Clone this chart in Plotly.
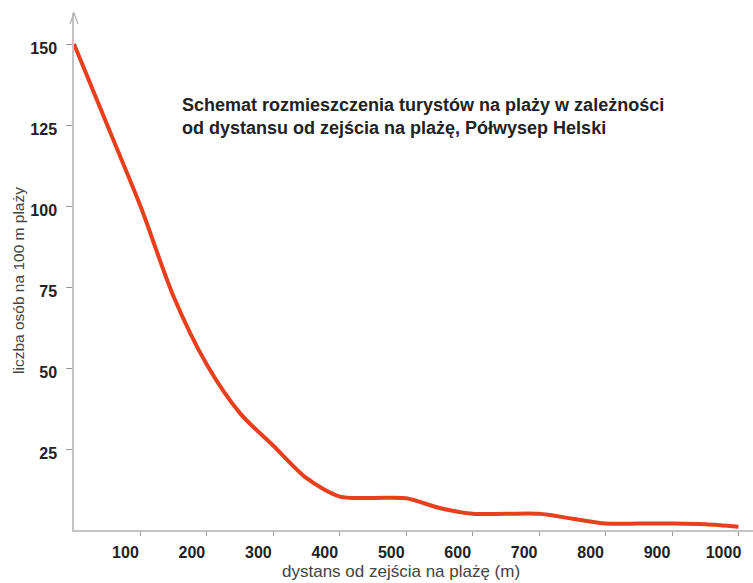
import plotly.graph_objects as go

# Data
distance_m = [0, 50, 100, 150, 200, 250, 300, 350, 400, 450, 500, 550, 600, 650, 700, 750, 800, 850, 900, 950, 1000]
persons_per_100m = [150, 125, 100, 72, 51, 36, 26, 16, 10.3, 9.9, 9.8, 6.8, 5, 5, 5, 3.5, 2, 2, 2, 1.8, 1]

x_tick_vals = [100, 200, 300, 400, 500, 600, 700, 800, 900, 1000]
x_tick_text = ["100", "200", "300", "400", "500", "600", "700", "800", "900", "1000"]
y_tick_vals = [25, 50, 75, 100, 125, 150]
y_tick_text = ["25", "50", "75", "100", "125", "150"]

title_line1 = "Schemat rozmieszczenia turystów na plaży w zależności"
title_line2 = "od dystansu od zejścia na plażę, Półwysep Helski"
x_title = "dystans od zejścia na plażę (m)"
y_title = "liczba osób na 100 m plaży"

W, H = 753, 583
ML, MR, MT, MB = 74, 0, 13, 53
X_MAX = 1021.8
Y_MAX = 159.6

FONT = "Liberation Sans, Arial, sans-serif"
AXIS_GRAY = "#c4c4c4"

fig = go.Figure()
fig.add_trace(go.Scatter(
    x=distance_m, y=persons_per_100m, mode="lines",
    line=dict(color="#e8401c", width=4, shape="spline", smoothing=0.8),
    hoverinfo="skip", showlegend=False,
))

fig.update_layout(
    width=W, height=H,
    margin=dict(l=ML, r=MR, t=MT, b=MB),
    paper_bgcolor="white", plot_bgcolor="white",
    showlegend=False,
    font=dict(family=FONT, color="#222222"),
    xaxis=dict(
        range=[0, X_MAX], showgrid=False, zeroline=False,
        showline=True, linecolor=AXIS_GRAY, linewidth=1.5,
        ticks="outside", ticklen=4, tickwidth=1.2, tickcolor="#999999",
        tickvals=x_tick_vals, ticktext=x_tick_text,
        tickfont=dict(family=FONT, size=16, color="#222222", weight="bold"),
        ticklabelshift=-15, ticklabelstandoff=3,
    ),
    yaxis=dict(
        range=[0, Y_MAX], showgrid=False, zeroline=False,
        showline=True, linecolor=AXIS_GRAY, linewidth=1.5,
        ticks="outside", ticklen=6, tickwidth=1.2, tickcolor="#999999",
        tickvals=y_tick_vals, ticktext=y_tick_text,
        tickfont=dict(family=FONT, size=16, color="#222222", weight="bold"),
        ticklabelshift=4, ticklabelstandoff=6,
    ),
)

# arrowhead on top of the y axis
fig.add_shape(
    type="path", xref="paper", yref="paper",
    xsizemode="pixel", ysizemode="pixel", xanchor=0, yanchor=1,
    path="M -4,-11 L 0,0 L 4,-11",
    line=dict(color="#b0b0b0", width=1.2),
)

# title (two lines)
fig.add_annotation(
    text=title_line1, xref="paper", yref="paper",
    x=(180 - ML) / (W - ML - MR), y=1, xanchor="left", yanchor="middle",
    yshift=-(104.5 - MT), showarrow=False,
    font=dict(family=FONT, size=18, color="#222222", weight="bold"),
)
fig.add_annotation(
    text=title_line2, xref="paper", yref="paper",
    x=(180 - ML) / (W - ML - MR), y=1, xanchor="left", yanchor="middle",
    yshift=-(128 - MT), showarrow=False,
    font=dict(family=FONT, size=18, color="#222222", weight="bold"),
)

# axis titles
fig.add_annotation(
    text=x_title, xref="paper", yref="paper",
    x=(401 - ML) / (W - ML - MR), y=0, xanchor="center", yanchor="middle",
    yshift=-(571 - 530), showarrow=False,
    font=dict(family=FONT, size=17, color="#444444"),
)
fig.add_annotation(
    text=y_title, xref="paper", yref="paper",
    x=0, y=(530 - 281) / (530 - MT), xanchor="center", yanchor="middle",
    xshift=-(ML - 18), textangle=-90, showarrow=False,
    font=dict(family=FONT, size=15.5, color="#444444"),
)

fig.write_html(
    "out.html",
    config={"displayModeBar": False},
    post_script="document.body.style.margin='0';document.body.style.padding='0';",
)
